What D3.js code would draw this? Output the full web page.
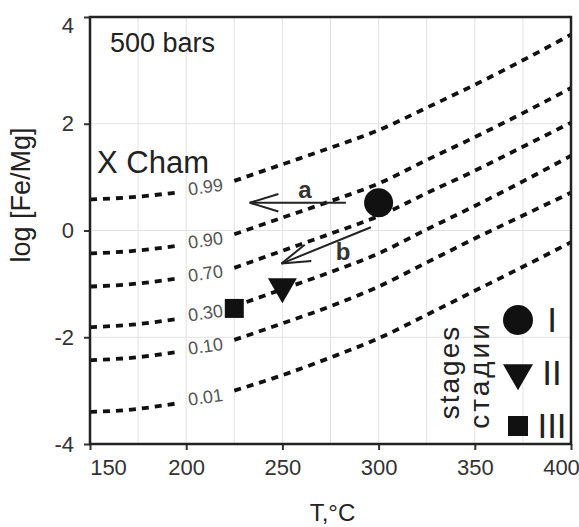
<!DOCTYPE html>
<html>
<head>
<meta charset="utf-8">
<script src="https://cdn.jsdelivr.net/npm/d3@7"></script>
<style>
	body { margin: 0; background: #fff; }
	svg { display: block; font-family: 'Liberation Sans', Arial, sans-serif; }
</style>
</head>
<body>
<svg id="chart" width="579" height="527"></svg>
<script>
var temps = [150, 170, 195, null, 225, 250, 275, 300, 325, 350, 375, 400];

// X Cham isopleths, log [Fe/Mg]
var curveNames = ['0.99', '0.90', '0.70', '0.30', '0.10', '0.01'];
var cham099 = [0.58, 0.62, 0.71, null, 0.93, 1.24, 1.55, 1.88, 2.30, 2.73, 3.19, 3.67];
var cham090 = [-0.43, -0.39, -0.29, null, -0.07, 0.24, 0.55, 0.88, 1.32, 1.75, 2.20, 2.67];
var cham070 = [-1.05, -1.01, -0.90, null, -0.70, -0.38, -0.06, 0.27, 0.70, 1.12, 1.57, 2.02];
var cham030 = [-1.81, -1.77, -1.66, null, -1.42, -1.10, -0.78, -0.43, 0.02, 0.46, 0.92, 1.40];
var cham010 = [-2.43, -2.39, -2.28, null, -2.05, -1.74, -1.42, -1.05, -0.60, -0.15, 0.28, 0.71];
var cham001 = [-3.40, -3.36, -3.24, null, -3.00, -2.71, -2.38, -2.02, -1.58, -1.13, -0.68, -0.22];
var curveValues = [cham099, cham090, cham070, cham030, cham010, cham001];

// mineralisation stages
var stageNames = ['I', 'II', 'III'];
var stageT = [300, 250, 225];
var stageLog = [0.52, -1.05, -1.46];

// trend arrows
var arrowNames = ['a', 'b'];
var arrowFromT = [283, 296], arrowFromLog = [0.52, 0.06];
var arrowToT = [233, 249.5], arrowToLog = [0.52, -0.62];
var arrowLabelT = [261.7, 281.5], arrowLabelLog = [0.61, -0.55];

var xTicks = [150, 200, 250, 300, 350, 400];
var yTicks = [-4, -2, 0, 2, 4];
var xGrid = [175, 200, 225, 250, 275, 300, 325, 350, 375];
var yGrid = [-2, 0, 2];

var svg = d3.select('#chart'),
	pLeft = 90, pTop = 17, pRight = 571, pBottom = 444;

var x = d3.scaleLinear().domain([150, 400]).range([pLeft, pRight]);
var y = d3.scaleLinear().domain([-4, 4]).range([pBottom, pTop]);

// grid
svg.append('g').selectAll('line').data(xGrid).enter().append('line')
	.attr('x1', function(d) { return x(d); }).attr('x2', function(d) { return x(d); })
	.attr('y1', pTop).attr('y2', pBottom)
	.attr('stroke', '#e2e2e2').attr('stroke-width', 1);
svg.append('g').selectAll('line').data(yGrid).enter().append('line')
	.attr('y1', function(d) { return y(d); }).attr('y2', function(d) { return y(d); })
	.attr('x1', pLeft).attr('x2', pRight)
	.attr('stroke', '#e2e2e2').attr('stroke-width', 1);

// axes
var noMinus = function(d) { return String(d); };
var xAxis = svg.append('g').attr('transform', 'translate(0,' + pBottom + ')')
	.call(d3.axisBottom(x).tickValues(xTicks).tickSize(6).tickPadding(9).tickFormat(noMinus));
var yAxis = svg.append('g').attr('transform', 'translate(' + pLeft + ',0)')
	.call(d3.axisLeft(y).tickValues(yTicks).tickSize(6).tickPadding(10).tickFormat(noMinus));

[xAxis, yAxis].forEach(function(a) {
	a.select('.domain').remove();
	a.selectAll('line').attr('stroke', '#333').attr('stroke-width', 2);
	a.selectAll('text').attr('font-size', 22).attr('fill', '#333')
		.attr('font-family', "'Liberation Sans', Arial, sans-serif");
});
// end labels are pushed inside the picture
xAxis.selectAll('.tick text').filter(function(d) { return d === 150; }).attr('dx', 18);
xAxis.selectAll('.tick text').filter(function(d) { return d === 400; }).attr('dx', -10);
yAxis.selectAll('.tick text').filter(function(d) { return d === 4; }).attr('transform', 'translate(0,8)');

// isopleths
var line = d3.line()
	.defined(function(d) { return d.v !== null; })
	.x(function(d) { return x(d.t); })
	.y(function(d) { return y(d.v); })
	.curve(d3.curveMonotoneX);

curveValues.forEach(function(vals, k) {
	var pts = temps.map(function(t, i) { return { t: t, v: vals[i] }; });
	svg.append('path').datum(pts)
		.attr('d', line)
		.attr('fill', 'none')
		.attr('stroke', '#111')
		.attr('stroke-width', 3.8)
		.attr('stroke-dasharray', '7,6');

	var gap = temps.indexOf(null),
		p0 = pts[gap - 1], p1 = pts[gap + 1],
		cx = (x(p0.t) + x(p1.t)) / 2, cy = (y(p0.v) + y(p1.v)) / 2;
	svg.append('text')
		.attr('transform', 'translate(' + cx + ',' + cy + ') rotate(-8)')
		.attr('text-anchor', 'middle')
		.attr('dy', '0.35em')
		.attr('font-size', 18)
		.attr('fill', '#555')
		.text(curveNames[k]);
});

// arrows
var headLen = 30, headAng = 17 * Math.PI / 180;
arrowNames.forEach(function(name, i) {
	var x0 = x(arrowFromT[i]), y0 = y(arrowFromLog[i]),
		x1 = x(arrowToT[i]), y1 = y(arrowToLog[i]),
		ang = Math.atan2(y0 - y1, x0 - x1);
	var g = svg.append('g').attr('stroke', '#222').attr('stroke-width', 2).attr('fill', 'none');
	g.append('line').attr('x1', x0).attr('y1', y0).attr('x2', x1).attr('y2', y1);
	[-headAng, headAng].forEach(function(da) {
		g.append('line').attr('x1', x1).attr('y1', y1)
			.attr('x2', x1 + headLen * Math.cos(ang + da))
			.attr('y2', y1 + headLen * Math.sin(ang + da));
	});
	svg.append('text')
		.attr('x', x(arrowLabelT[i])).attr('y', y(arrowLabelLog[i]))
		.attr('text-anchor', 'middle')
		.attr('font-size', 24).attr('font-weight', 'bold').attr('fill', '#333')
		.text(name);
});

// stage symbols
var symbolTypes = [d3.symbolCircle, d3.symbolTriangle, d3.symbolSquare];
var symbolSizes = [660, 364, 361];
var symbolRot = [0, 180, 0];
stageNames.forEach(function(s, i) {
	svg.append('path')
		.attr('d', d3.symbol().type(symbolTypes[i]).size(symbolSizes[i])())
		.attr('transform', 'translate(' + x(stageT[i]) + ',' + y(stageLog[i]) + ') rotate(' + symbolRot[i] + ')')
		.attr('fill', '#111');
});

// frame
svg.append('rect')
	.attr('x', pLeft).attr('y', pTop).attr('width', pRight - pLeft).attr('height', pBottom - pTop)
	.attr('fill', 'none').attr('stroke', '#222').attr('stroke-width', 2.5);

// texts in plot
svg.append('text').attr('x', 110).attr('y', 52).attr('font-size', 27).attr('fill', '#222').text('500 bars');
svg.append('text').attr('x', 97).attr('y', 173).attr('font-size', 31).attr('fill', '#222').text('X Cham');

// axis titles
svg.append('text').attr('x', (pLeft + pRight) / 2 + 2).attr('y', 521)
	.attr('text-anchor', 'middle').attr('font-size', 24).attr('fill', '#222').text('T,°C');
svg.append('text').attr('transform', 'translate(30,195) rotate(-90)')
	.attr('text-anchor', 'middle').attr('font-size', 27).attr('fill', '#222').text('log [Fe/Mg]');

// legend
var legendSizes = [707, 390, 400];
var legend = svg.append('g').attr('transform', 'translate(518,0)');
legend.append('text').attr('transform', 'translate(-59,372) rotate(-90)')
	.attr('text-anchor', 'middle').attr('font-size', 28).attr('letter-spacing', 2).attr('fill', '#222')
	.text('stages');
legend.append('text').attr('transform', 'translate(-29,375) rotate(-90)')
	.attr('text-anchor', 'middle').attr('font-size', 28).attr('letter-spacing', 3).attr('fill', '#222')
	.text('стадии');
var legendY = [320, 373, 426];
stageNames.forEach(function(s, i) {
	legend.append('path')
		.attr('d', d3.symbol().type(symbolTypes[i]).size(legendSizes[i])())
		.attr('transform', 'translate(0,' + legendY[i] + ') rotate(' + symbolRot[i] + ')')
		.attr('fill', '#111');
	legend.append('text')
		.attr('x', 34).attr('y', legendY[i] + 12)
		.attr('text-anchor', 'middle').attr('font-size', 35).attr('fill', '#222')
		.text(s);
});
</script>
</body>
</html>
